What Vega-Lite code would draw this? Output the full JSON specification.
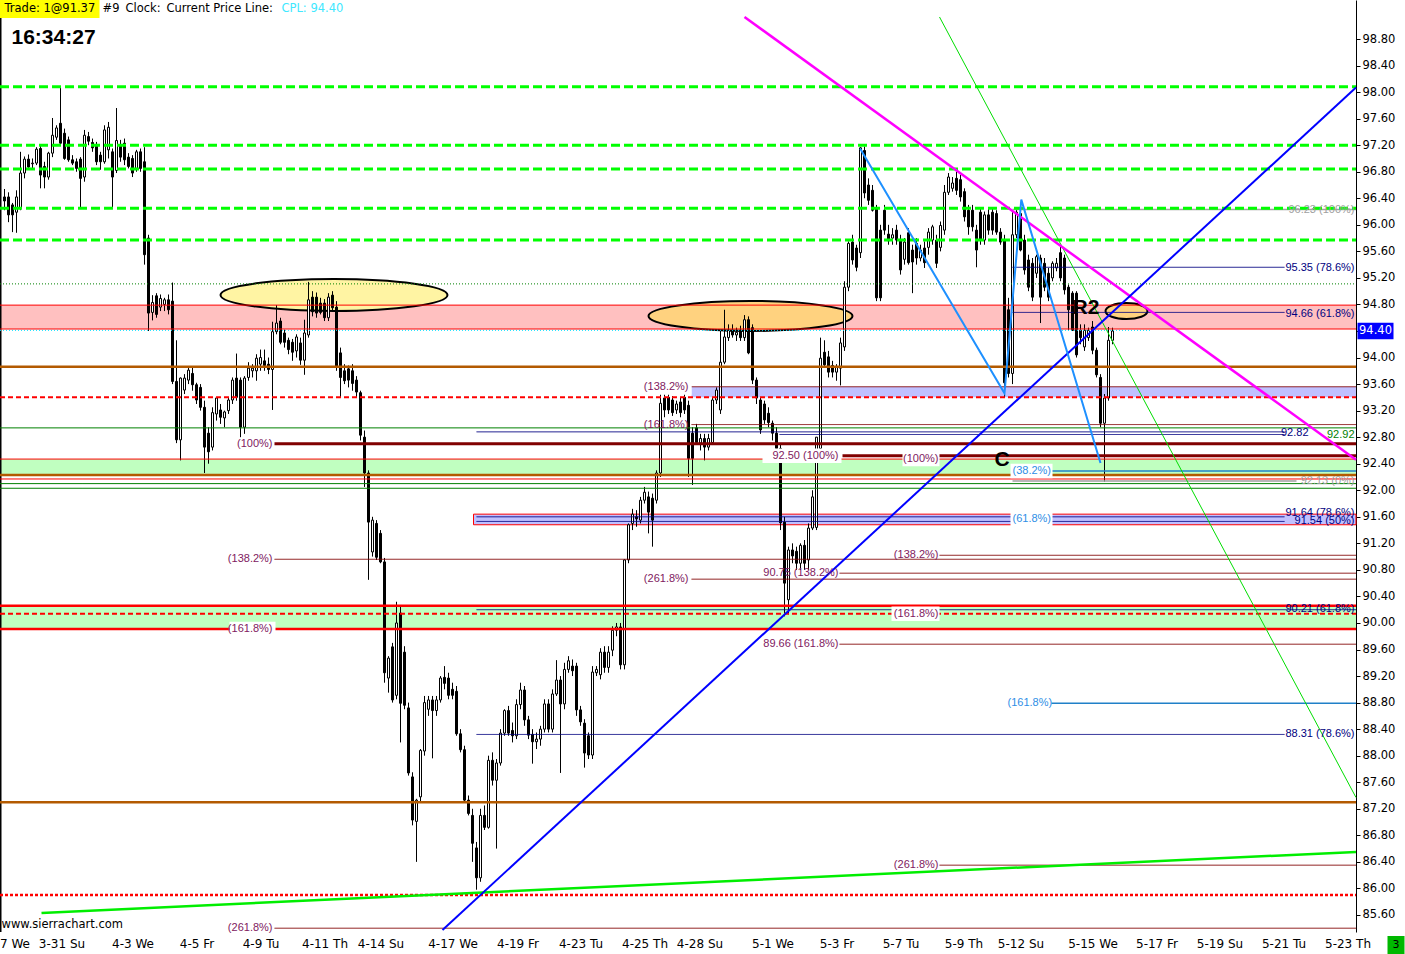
{
"$schema":"https://vega.github.io/schema/vega-lite/v6.json",
"width":1356,"height":932,"autosize":{"type":"none"},"padding":{"left":0,"top":0,"right":49,"bottom":22},"background":"white",
"config":{"view":{"stroke":null},"axis":{"grid":false},"axisY":{"labelOverlap":false,"labelSeparation":0},"axisX":{"labelOverlap":false}},
"datasets":{
"bars":[
{"i":0,"o":96.42,"h":96.54,"l":96.22,"c":96.36},{"i":1,"o":96.42,"h":96.49,"l":96.04,"c":96.15},{"i":2,"o":96.30,"h":96.33,"l":95.89,"c":96.15},{"i":3,"o":96.19,"h":96.52,"l":95.88,"c":96.42},{"i":4,"o":96.25,"h":97.10,"l":96.22,"c":96.78},{"i":5,"o":96.78,"h":97.03,"l":96.70,"c":96.99},{"i":6,"o":96.99,"h":97.06,"l":96.86,"c":96.87},{"i":7,"o":96.92,"h":97.00,"l":96.85,"c":96.93},{"i":8,"o":96.93,"h":97.17,"l":96.90,"c":97.14},{"i":9,"o":97.15,"h":97.20,"l":96.55,"c":96.75},
{"i":10,"o":96.88,"h":96.95,"l":96.55,"c":96.72},{"i":11,"o":96.72,"h":97.10,"l":96.68,"c":97.08},{"i":12,"o":97.08,"h":97.61,"l":97.02,"c":97.35},{"i":13,"o":97.32,"h":97.50,"l":97.28,"c":97.46},{"i":14,"o":97.53,"h":98.08,"l":97.20,"c":97.23},{"i":15,"o":97.38,"h":97.45,"l":96.98,"c":97.00},{"i":16,"o":97.28,"h":97.33,"l":96.95,"c":96.98},{"i":17,"o":96.98,"h":97.05,"l":96.90,"c":96.93},{"i":18,"o":96.95,"h":97.00,"l":96.80,"c":96.85},{"i":19,"o":96.99,"h":97.02,"l":96.25,"c":96.70},
{"i":20,"o":96.72,"h":97.43,"l":96.65,"c":97.35},{"i":21,"o":97.33,"h":97.40,"l":97.20,"c":97.26},{"i":22,"o":97.24,"h":97.30,"l":97.10,"c":97.16},{"i":23,"o":97.20,"h":97.25,"l":96.90,"c":96.95},{"i":24,"o":97.05,"h":97.10,"l":96.83,"c":96.95},{"i":25,"o":96.95,"h":97.50,"l":96.92,"c":97.43},{"i":26,"o":97.13,"h":97.55,"l":97.00,"c":97.47},{"i":27,"o":97.10,"h":97.15,"l":96.25,"c":96.72},{"i":28,"o":96.82,"h":97.76,"l":96.78,"c":97.27},{"i":29,"o":97.21,"h":97.28,"l":96.95,"c":97.02},
{"i":30,"o":97.23,"h":97.30,"l":96.90,"c":96.98},{"i":31,"o":97.02,"h":97.08,"l":96.85,"c":96.88},{"i":32,"o":97.00,"h":97.05,"l":96.72,"c":96.78},{"i":33,"o":96.85,"h":97.13,"l":96.80,"c":97.10},{"i":34,"o":97.10,"h":97.15,"l":96.80,"c":96.85},{"i":35,"o":96.95,"h":97.17,"l":95.40,"c":95.55},{"i":36,"o":95.80,"h":95.85,"l":94.40,"c":94.67},{"i":37,"o":94.68,"h":94.94,"l":94.56,"c":94.83},{"i":38,"o":94.93,"h":94.97,"l":94.60,"c":94.65},{"i":39,"o":94.76,"h":94.95,"l":94.70,"c":94.89},
{"i":40,"o":94.80,"h":94.90,"l":94.70,"c":94.87},{"i":41,"o":94.87,"h":94.95,"l":94.65,"c":94.72},{"i":42,"o":94.85,"h":95.13,"l":93.60,"c":93.64},{"i":43,"o":93.64,"h":94.26,"l":92.71,"c":92.76},{"i":44,"o":92.76,"h":93.70,"l":92.45,"c":93.69},{"i":45,"o":93.51,"h":93.75,"l":93.45,"c":93.69},{"i":46,"o":93.66,"h":93.85,"l":93.60,"c":93.81},{"i":47,"o":93.76,"h":93.85,"l":93.50,"c":93.59},{"i":48,"o":93.59,"h":93.62,"l":93.30,"c":93.36},{"i":49,"o":93.55,"h":93.60,"l":93.20,"c":93.25},
{"i":50,"o":93.25,"h":93.35,"l":92.26,"c":92.65},{"i":51,"o":92.86,"h":92.95,"l":92.40,"c":92.58},{"i":52,"o":92.65,"h":93.25,"l":92.60,"c":93.17},{"i":53,"o":93.15,"h":93.40,"l":93.05,"c":93.39},{"i":54,"o":93.21,"h":93.30,"l":93.00,"c":93.10},{"i":55,"o":93.09,"h":93.20,"l":92.95,"c":93.18},{"i":56,"o":93.20,"h":93.40,"l":93.15,"c":93.36},{"i":57,"o":93.36,"h":93.70,"l":93.30,"c":93.66},{"i":58,"o":93.69,"h":94.06,"l":93.35,"c":93.40},{"i":59,"o":93.66,"h":93.70,"l":92.80,"c":92.95},
{"i":60,"o":92.95,"h":93.72,"l":92.85,"c":93.69},{"i":61,"o":93.70,"h":93.93,"l":93.65,"c":93.84},{"i":62,"o":93.80,"h":93.90,"l":93.70,"c":93.84},{"i":63,"o":93.80,"h":94.05,"l":93.65,"c":93.99},{"i":64,"o":93.90,"h":94.12,"l":93.80,"c":94.00},{"i":65,"o":93.95,"h":94.12,"l":93.80,"c":93.88},{"i":66,"o":93.90,"h":94.00,"l":93.75,"c":93.82},{"i":67,"o":93.82,"h":94.54,"l":93.21,"c":94.39},{"i":68,"o":94.39,"h":94.79,"l":94.35,"c":94.52},{"i":69,"o":94.55,"h":94.60,"l":94.20,"c":94.23},
{"i":70,"o":94.37,"h":94.42,"l":94.15,"c":94.23},{"i":71,"o":94.26,"h":94.30,"l":94.05,"c":94.12},{"i":72,"o":94.23,"h":94.28,"l":93.95,"c":94.08},{"i":73,"o":94.10,"h":94.35,"l":94.00,"c":94.31},{"i":74,"o":94.22,"h":94.30,"l":93.89,"c":93.96},{"i":75,"o":93.96,"h":94.57,"l":93.74,"c":94.37},{"i":76,"o":94.34,"h":95.14,"l":94.30,"c":94.87},{"i":77,"o":94.91,"h":95.00,"l":94.62,"c":94.69},{"i":78,"o":94.91,"h":94.98,"l":94.60,"c":94.67},{"i":79,"o":94.82,"h":94.90,"l":94.65,"c":94.68},
{"i":80,"o":94.82,"h":94.88,"l":94.55,"c":94.60},{"i":81,"o":94.60,"h":94.97,"l":94.55,"c":94.91},{"i":82,"o":94.94,"h":95.00,"l":94.70,"c":94.75},{"i":83,"o":94.76,"h":94.85,"l":93.80,"c":93.86},{"i":84,"o":94.07,"h":94.15,"l":93.40,"c":93.70},{"i":85,"o":93.80,"h":93.90,"l":93.60,"c":93.65},{"i":86,"o":93.83,"h":93.88,"l":93.55,"c":93.66},{"i":87,"o":93.80,"h":93.90,"l":93.50,"c":93.61},{"i":88,"o":93.66,"h":93.72,"l":93.40,"c":93.48},{"i":89,"o":93.47,"h":93.50,"l":92.75,"c":92.83},
{"i":90,"o":92.80,"h":92.90,"l":92.05,"c":92.26},{"i":91,"o":92.26,"h":92.30,"l":90.65,"c":91.52},{"i":92,"o":91.07,"h":91.60,"l":91.00,"c":91.55},{"i":93,"o":91.50,"h":91.55,"l":90.95,"c":90.99},{"i":94,"o":91.35,"h":91.40,"l":90.90,"c":90.92},{"i":95,"o":90.92,"h":90.98,"l":89.10,"c":89.25},{"i":96,"o":89.17,"h":89.50,"l":88.95,"c":89.47},{"i":97,"o":89.64,"h":89.70,"l":88.80,"c":88.84},{"i":98,"o":88.91,"h":90.32,"l":88.85,"c":90.00},{"i":99,"o":90.15,"h":90.25,"l":88.20,"c":88.79},
{"i":100,"o":89.56,"h":89.65,"l":88.70,"c":88.76},{"i":101,"o":88.72,"h":88.80,"l":87.70,"c":87.74},{"i":102,"o":87.68,"h":87.75,"l":86.95,"c":87.03},{"i":103,"o":87.01,"h":87.35,"l":86.40,"c":87.33},{"i":104,"o":87.38,"h":88.10,"l":87.30,"c":88.08},{"i":105,"o":88.07,"h":88.90,"l":88.00,"c":88.80},{"i":106,"o":88.70,"h":88.90,"l":88.60,"c":88.84},{"i":107,"o":88.84,"h":88.90,"l":87.96,"c":88.68},{"i":108,"o":88.68,"h":88.90,"l":88.60,"c":88.84},{"i":109,"o":88.84,"h":89.20,"l":88.80,"c":89.17},
{"i":110,"o":89.18,"h":89.35,"l":89.00,"c":89.09},{"i":111,"o":89.17,"h":89.25,"l":88.85,"c":88.91},{"i":112,"o":89.00,"h":89.10,"l":88.85,"c":88.91},{"i":113,"o":88.97,"h":89.05,"l":88.30,"c":88.33},{"i":114,"o":88.33,"h":88.40,"l":88.05,"c":88.09},{"i":115,"o":88.09,"h":88.15,"l":87.30,"c":87.33},{"i":116,"o":87.33,"h":87.40,"l":87.10,"c":87.13},{"i":117,"o":87.10,"h":87.20,"l":86.40,"c":86.68},{"i":118,"o":86.61,"h":86.70,"l":85.98,"c":86.16},{"i":119,"o":86.16,"h":87.20,"l":86.10,"c":87.10},
{"i":120,"o":87.10,"h":87.25,"l":86.88,"c":86.92},{"i":121,"o":86.92,"h":88.00,"l":86.90,"c":87.93},{"i":122,"o":87.93,"h":88.05,"l":87.55,"c":87.63},{"i":123,"o":87.63,"h":87.95,"l":86.60,"c":87.89},{"i":124,"o":87.89,"h":88.40,"l":87.85,"c":88.34},{"i":125,"o":88.34,"h":88.70,"l":88.30,"c":88.68},{"i":126,"o":88.68,"h":88.75,"l":88.30,"c":88.34},{"i":127,"o":88.38,"h":88.50,"l":88.20,"c":88.30},{"i":128,"o":88.30,"h":88.85,"l":88.25,"c":88.77},{"i":129,"o":88.77,"h":89.10,"l":88.70,"c":88.99},
{"i":130,"o":88.99,"h":89.05,"l":88.45,"c":88.54},{"i":131,"o":88.54,"h":88.60,"l":88.25,"c":88.31},{"i":132,"o":88.32,"h":88.40,"l":87.88,"c":88.21},{"i":133,"o":88.21,"h":88.35,"l":88.10,"c":88.25},{"i":134,"o":88.25,"h":88.45,"l":88.15,"c":88.40},{"i":135,"o":88.40,"h":88.85,"l":88.35,"c":88.78},{"i":136,"o":88.78,"h":88.85,"l":88.35,"c":88.40},{"i":137,"o":88.40,"h":89.00,"l":88.35,"c":88.93},{"i":138,"o":88.93,"h":89.44,"l":88.90,"c":89.14},{"i":139,"o":89.14,"h":89.20,"l":87.74,"c":88.78},
{"i":140,"o":88.78,"h":89.40,"l":88.70,"c":89.30},{"i":141,"o":89.30,"h":89.50,"l":89.25,"c":89.43},{"i":142,"o":89.35,"h":89.45,"l":89.20,"c":89.28},{"i":143,"o":89.35,"h":89.40,"l":88.60,"c":88.69},{"i":144,"o":88.69,"h":88.75,"l":88.45,"c":88.51},{"i":145,"o":88.49,"h":88.55,"l":87.82,"c":88.04},{"i":146,"o":88.30,"h":88.35,"l":87.95,"c":88.01},{"i":147,"o":88.01,"h":89.35,"l":87.95,"c":89.26},{"i":148,"o":89.25,"h":89.35,"l":89.20,"c":89.30},{"i":149,"o":89.22,"h":89.62,"l":89.15,"c":89.56},
{"i":150,"o":89.56,"h":89.65,"l":89.25,"c":89.33},{"i":151,"o":89.33,"h":89.65,"l":89.25,"c":89.56},{"i":152,"o":89.59,"h":89.95,"l":89.50,"c":89.89},{"i":153,"o":89.89,"h":90.00,"l":89.80,"c":89.94},{"i":154,"o":89.94,"h":90.00,"l":89.30,"c":89.37},{"i":155,"o":89.37,"h":90.96,"l":89.30,"c":90.95},{"i":156,"o":90.95,"h":91.50,"l":90.90,"c":91.48},{"i":157,"o":91.50,"h":91.72,"l":91.40,"c":91.64},{"i":158,"o":91.60,"h":91.70,"l":91.45,"c":91.57},{"i":159,"o":91.55,"h":91.90,"l":91.50,"c":91.85},
{"i":160,"o":91.85,"h":92.05,"l":91.80,"c":91.97},{"i":161,"o":91.90,"h":91.98,"l":91.35,"c":91.67},{"i":162,"o":91.88,"h":91.95,"l":91.15,"c":91.55},{"i":163,"o":91.85,"h":92.30,"l":91.80,"c":92.26},{"i":164,"o":92.26,"h":93.48,"l":92.20,"c":93.31},{"i":165,"o":93.39,"h":93.45,"l":93.10,"c":93.21},{"i":166,"o":93.40,"h":93.50,"l":93.15,"c":93.21},{"i":167,"o":93.36,"h":93.42,"l":93.12,"c":93.17},{"i":168,"o":93.21,"h":93.35,"l":93.15,"c":93.30},{"i":169,"o":93.33,"h":93.40,"l":93.10,"c":93.17},
{"i":170,"o":93.40,"h":93.45,"l":93.15,"c":93.21},{"i":171,"o":93.28,"h":93.35,"l":92.20,"c":92.48},{"i":172,"o":92.86,"h":92.95,"l":92.08,"c":92.48},{"i":173,"o":92.94,"h":93.00,"l":92.70,"c":92.72},{"i":174,"o":92.71,"h":92.85,"l":92.60,"c":92.78},{"i":175,"o":92.78,"h":92.85,"l":92.45,"c":92.65},{"i":176,"o":92.65,"h":92.85,"l":92.60,"c":92.78},{"i":177,"o":92.72,"h":93.40,"l":92.70,"c":93.36},{"i":178,"o":93.36,"h":93.55,"l":93.30,"c":93.51},{"i":179,"o":93.21,"h":94.40,"l":93.15,"c":93.93},
{"i":180,"o":93.93,"h":94.72,"l":93.90,"c":94.31},{"i":181,"o":94.30,"h":94.50,"l":94.25,"c":94.41},{"i":182,"o":94.41,"h":94.50,"l":94.30,"c":94.34},{"i":183,"o":94.34,"h":94.45,"l":94.25,"c":94.38},{"i":184,"o":94.41,"h":94.48,"l":94.25,"c":94.30},{"i":185,"o":94.30,"h":94.64,"l":94.25,"c":94.57},{"i":186,"o":94.57,"h":94.62,"l":94.05,"c":94.07},{"i":187,"o":94.45,"h":94.50,"l":93.60,"c":93.66},{"i":188,"o":93.66,"h":93.70,"l":93.30,"c":93.39},{"i":189,"o":93.36,"h":93.40,"l":92.85,"c":92.91},
{"i":190,"o":93.30,"h":93.35,"l":93.00,"c":93.06},{"i":191,"o":93.16,"h":93.25,"l":92.95,"c":93.02},{"i":192,"o":93.01,"h":93.05,"l":92.75,"c":92.86},{"i":193,"o":92.86,"h":92.95,"l":92.55,"c":92.63},{"i":194,"o":92.63,"h":92.70,"l":91.40,"c":91.51},{"i":195,"o":91.52,"h":91.60,"l":90.10,"c":90.60},{"i":196,"o":90.35,"h":91.15,"l":90.13,"c":91.10},{"i":197,"o":91.10,"h":91.20,"l":90.90,"c":91.01},{"i":198,"o":91.08,"h":91.15,"l":90.80,"c":90.90},{"i":199,"o":90.90,"h":91.20,"l":90.80,"c":91.17},
{"i":200,"o":91.17,"h":91.25,"l":90.80,"c":90.90},{"i":201,"o":90.95,"h":91.50,"l":90.80,"c":91.43},{"i":202,"o":91.43,"h":92.00,"l":91.40,"c":91.90},{"i":203,"o":91.44,"h":92.80,"l":91.40,"c":92.80},{"i":204,"o":92.63,"h":94.30,"l":92.60,"c":93.99},{"i":205,"o":94.08,"h":94.26,"l":93.85,"c":93.89},{"i":206,"o":94.01,"h":94.10,"l":93.70,"c":93.78},{"i":207,"o":93.88,"h":93.95,"l":93.70,"c":93.78},{"i":208,"o":93.78,"h":93.90,"l":93.65,"c":93.85},{"i":209,"o":93.84,"h":94.30,"l":93.58,"c":94.22},
{"i":210,"o":94.16,"h":95.15,"l":94.10,"c":95.06},{"i":211,"o":95.06,"h":95.75,"l":95.00,"c":95.72},{"i":212,"o":95.74,"h":95.85,"l":95.40,"c":95.47},{"i":213,"o":95.65,"h":95.70,"l":95.30,"c":95.36},{"i":214,"o":95.58,"h":97.17,"l":95.50,"c":97.16},{"i":215,"o":97.12,"h":97.18,"l":96.40,"c":96.48},{"i":216,"o":96.60,"h":96.70,"l":96.30,"c":96.37},{"i":217,"o":96.52,"h":96.60,"l":96.20,"c":96.22},{"i":218,"o":96.25,"h":96.30,"l":94.85,"c":94.90},{"i":219,"o":95.92,"h":96.00,"l":94.85,"c":94.90},
{"i":220,"o":96.22,"h":96.30,"l":95.85,"c":95.92},{"i":221,"o":95.86,"h":96.00,"l":95.70,"c":95.76},{"i":222,"o":95.80,"h":95.95,"l":95.70,"c":95.85},{"i":223,"o":95.92,"h":96.00,"l":95.70,"c":95.77},{"i":224,"o":95.77,"h":95.85,"l":95.25,"c":95.32},{"i":225,"o":95.48,"h":95.80,"l":95.40,"c":95.74},{"i":226,"o":95.88,"h":95.95,"l":95.40,"c":95.43},{"i":227,"o":95.62,"h":95.70,"l":94.97,"c":95.44},{"i":228,"o":95.72,"h":95.80,"l":95.40,"c":95.50},{"i":229,"o":95.50,"h":95.70,"l":95.45,"c":95.62},
{"i":230,"o":95.65,"h":95.75,"l":95.35,"c":95.43},{"i":231,"o":95.66,"h":95.95,"l":95.55,"c":95.89},{"i":232,"o":95.77,"h":96.00,"l":95.70,"c":95.97},{"i":233,"o":95.77,"h":95.85,"l":95.35,"c":95.42},{"i":234,"o":95.66,"h":96.05,"l":95.60,"c":95.99},{"i":235,"o":95.92,"h":96.60,"l":95.85,"c":96.49},{"i":236,"o":96.49,"h":96.78,"l":96.45,"c":96.72},{"i":237,"o":96.55,"h":96.72,"l":96.50,"c":96.63},{"i":238,"o":96.70,"h":96.80,"l":96.45,"c":96.52},{"i":239,"o":96.68,"h":96.75,"l":96.35,"c":96.42},
{"i":240,"o":96.50,"h":96.55,"l":96.05,"c":96.12},{"i":241,"o":96.22,"h":96.30,"l":95.85,"c":95.97},{"i":242,"o":96.22,"h":96.30,"l":95.90,"c":95.97},{"i":243,"o":95.92,"h":96.00,"l":95.36,"c":95.62},{"i":244,"o":96.19,"h":96.25,"l":95.70,"c":95.77},{"i":245,"o":95.77,"h":96.20,"l":95.70,"c":96.15},{"i":246,"o":96.15,"h":96.25,"l":95.85,"c":95.92},{"i":247,"o":96.19,"h":96.25,"l":95.85,"c":95.92},{"i":248,"o":96.17,"h":96.22,"l":95.85,"c":95.89},{"i":249,"o":95.89,"h":95.95,"l":95.70,"c":95.74},
{"i":250,"o":95.77,"h":95.85,"l":93.40,"c":93.62},{"i":251,"o":94.72,"h":94.90,"l":93.70,"c":93.76},{"i":252,"o":93.76,"h":96.19,"l":93.60,"c":95.85},{"i":253,"o":95.85,"h":96.25,"l":95.80,"c":96.19},{"i":254,"o":96.17,"h":96.25,"l":95.60,"c":95.62},{"i":255,"o":95.77,"h":95.85,"l":95.25,"c":95.32},{"i":256,"o":95.47,"h":95.55,"l":95.00,"c":95.06},{"i":257,"o":95.42,"h":95.50,"l":94.85,"c":94.91},{"i":258,"o":95.27,"h":95.55,"l":95.20,"c":95.52},{"i":259,"o":95.50,"h":95.55,"l":94.52,"c":94.91},
{"i":260,"o":95.42,"h":95.50,"l":95.00,"c":95.06},{"i":261,"o":95.27,"h":95.35,"l":94.85,"c":94.91},{"i":262,"o":95.20,"h":95.45,"l":95.15,"c":95.42},{"i":263,"o":95.35,"h":95.50,"l":95.30,"c":95.42},{"i":264,"o":95.58,"h":95.70,"l":95.15,"c":95.20},{"i":265,"o":95.50,"h":95.55,"l":94.95,"c":95.02},{"i":266,"o":95.06,"h":95.10,"l":94.41,"c":94.72},{"i":267,"o":94.97,"h":95.00,"l":94.40,"c":94.41},{"i":268,"o":94.97,"h":95.00,"l":94.00,"c":94.04},{"i":269,"o":94.41,"h":94.50,"l":94.20,"c":94.30},
{"i":270,"o":94.16,"h":94.50,"l":94.10,"c":94.41},{"i":271,"o":94.30,"h":94.45,"l":94.25,"c":94.41},{"i":272,"o":94.46,"h":94.55,"l":94.05,"c":94.11},{"i":273,"o":94.11,"h":94.15,"l":93.70,"c":93.74},{"i":274,"o":93.70,"h":93.75,"l":92.95,"c":93.01},{"i":275,"o":93.01,"h":93.45,"l":92.13,"c":93.39},{"i":276,"o":93.39,"h":94.46,"l":93.35,"c":94.26},{"i":277,"o":94.26,"h":94.45,"l":94.20,"c":94.40}
],
"zn":[
{"a":-1.125,"b":337.875,"p1":94.79,"p2":94.43,"k":"pink"},
{"a":171.75,"b":337.875,"p1":93.56,"p2":93.40,"k":"lav"},
{"a":117.25,"b":337.875,"p1":91.64,"p2":91.48,"k":"lavr"},
{"a":-1.125,"b":337.875,"p1":92.47,"p2":92.22,"k":"lg"},
{"a":-1.125,"b":337.875,"p1":90.26,"p2":89.91,"k":"lg"}
],
"hl":[
{"p":96.23,"a":252,"b":337.875,"k":"gray"},
{"p":98.08,"a":-1.125,"b":337.875,"k":"limedash"},
{"p":97.20,"a":-1.125,"b":337.875,"k":"limedash"},
{"p":96.84,"a":-1.125,"b":337.875,"k":"limedash"},
{"p":96.25,"a":-1.125,"b":337.875,"k":"limedash"},
{"p":95.77,"a":-1.125,"b":337.875,"k":"limedash"},
{"p":95.11,"a":-1.125,"b":337.875,"k":"gdot"},
{"p":95.36,"a":252,"b":320,"k":"navy"},
{"p":94.68,"a":252,"b":320,"k":"navy"},
{"p":94.79,"a":-1.125,"b":337.875,"k":"red"},
{"p":94.43,"a":-1.125,"b":337.875,"k":"red"},
{"p":94.41,"a":-1.125,"b":286.75,"k":"cyan"},
{"p":93.86,"a":-1.125,"b":337.875,"k":"brown"},
{"p":93.56,"a":171.75,"b":337.875,"k":"dred"},
{"p":93.40,"a":-1.125,"b":337.875,"k":"reddash"},
{"p":92.99,"a":171.75,"b":337.875,"k":"dred"},
{"p":92.94,"a":-1.125,"b":337.875,"k":"green"},
{"p":92.88,"a":118,"b":320,"k":"navy"},
{"p":92.84,"a":193.75,"b":320,"k":"navy"},
{"p":92.70,"a":67.5,"b":337.875,"k":"dred2"},
{"p":92.52,"a":209.5,"b":337.875,"k":"dred2"},
{"p":92.47,"a":-1.125,"b":337.875,"k":"red"},
{"p":92.29,"a":261.75,"b":337.875,"k":"lblue"},
{"p":92.23,"a":-1.125,"b":337.875,"k":"brown"},
{"p":92.17,"a":-1.125,"b":337.875,"k":"red"},
{"p":92.14,"a":252,"b":323,"k":"gray"},
{"p":92.10,"a":-1.125,"b":337.875,"k":"green"},
{"p":92.03,"a":-1.125,"b":337.875,"k":"green"},
{"p":91.60,"a":118,"b":320,"k":"navy"},
{"p":91.53,"a":118,"b":320,"k":"navy"},
{"p":91.02,"a":233.75,"b":337.875,"k":"dred"},
{"p":90.96,"a":67.5,"b":337.875,"k":"dred"},
{"p":90.75,"a":208.75,"b":337.875,"k":"dred"},
{"p":90.66,"a":171.75,"b":337.875,"k":"dred"},
{"p":90.26,"a":-1.125,"b":337.875,"k":"red2"},
{"p":90.20,"a":118,"b":337.875,"k":"navy"},
{"p":90.14,"a":-1.125,"b":337.875,"k":"reddash"},
{"p":89.91,"a":-1.125,"b":337.875,"k":"red2"},
{"p":89.68,"a":208.75,"b":337.875,"k":"dred"},
{"p":88.79,"a":261.75,"b":337.875,"k":"lblue"},
{"p":88.32,"a":118,"b":320,"k":"navy"},
{"p":87.30,"a":-1.125,"b":337.875,"k":"brown"},
{"p":86.35,"a":233.75,"b":337.875,"k":"dred"},
{"p":85.90,"a":-1.125,"b":337.875,"k":"reddot"},
{"p":85.40,"a":67.5,"b":337.875,"k":"dred"}
],
"tl":[
{"g":"lime","i":9.25,"p":85.63},{"g":"lime","i":337.875,"p":86.55},
{"g":"grn","i":233.75,"p":99.132},{"g":"grn","i":337.875,"p":87.37},
{"g":"mag","i":185,"p":99.132},{"g":"mag","i":337.875,"p":92.46},
{"g":"blu","i":109.5,"p":85.373},{"g":"blu","i":337.875,"p":98.07},
{"g":"zig","i":213.9,"p":97.15},{"g":"zig","i":250,"p":93.46},{"g":"zig","i":254.2,"p":96.38},{"g":"zig","i":274,"p":92.41}
],
"bx":[
{"a":160.25,"b":171.75,"p1":93.66,"p2":93.44,"k":"w"},
{"a":56.25,"b":67.75,"p1":90.02,"p2":89.80,"k":"w"},
{"a":221.75,"b":233.75,"p1":90.25,"p2":90.03,"k":"w"},
{"a":251.5,"b":262,"p1":92.40,"p2":92.18,"k":"w"},
{"a":251.5,"b":262,"p1":91.67,"p2":91.45,"k":"w"},
{"a":189.5,"b":209.25,"p1":92.63,"p2":92.41,"k":"w"},
{"a":224.5,"b":233.75,"p1":92.58,"p2":92.36,"k":"w"},
{"a":-1.125,"b":23.75,"p1":99.388,"p2":99.117,"k":"yel"},
{"a":338.25,"b":347.25,"p1":94.525,"p2":94.275,"k":"blu"},
{"a":345.75,"b":350,"p1":85.283,"p2":85.01,"k":"g3"}
],
"lbr":[
{"x":67,"p":92.70,"t":"(100%)","k":"r"},
{"x":67,"p":90.96,"t":"(138.2%)","k":"r"},
{"x":67,"p":89.91,"t":"(161.8%)","k":"r"},
{"x":67,"p":85.40,"t":"(261.8%)","k":"r"},
{"x":171,"p":93.56,"t":"(138.2%)","k":"r"},
{"x":171,"p":92.99,"t":"(161.8%)","k":"r"},
{"x":171,"p":90.66,"t":"(261.8%)","k":"r"},
{"x":208.5,"p":92.52,"t":"92.50  (100%)","k":"r"},
{"x":208.5,"p":90.75,"t":"90.75  (138.2%)","k":"r"},
{"x":208.5,"p":89.68,"t":"89.66  (161.8%)","k":"r"},
{"x":233.5,"p":92.47,"t":"(100%)","k":"r"},
{"x":233.5,"p":91.02,"t":"(138.2%)","k":"r"},
{"x":233.5,"p":90.14,"t":"(161.8%)","k":"r"},
{"x":233.5,"p":86.35,"t":"(261.8%)","k":"r"},
{"x":337.5,"p":95.35,"t":"95.35  (78.6%)","k":"n"},
{"x":337.5,"p":94.66,"t":"94.66  (61.8%)","k":"n"},
{"x":326,"p":92.86,"t":"92.82","k":"n"},
{"x":337.5,"p":92.84,"t":"92.92","k":"g"},
{"x":337.5,"p":91.65,"t":"91.64  (78.6%)","k":"n"},
{"x":337.5,"p":91.53,"t":"91.54  (50%)","k":"n"},
{"x":337.5,"p":90.21,"t":"90.21  (61.8%)","k":"n"},
{"x":337.5,"p":88.32,"t":"88.31  (78.6%)","k":"n"},
{"x":337.5,"p":96.23,"t":"96.23  (100%)","k":"y"},
{"x":337.5,"p":92.14,"t":"92.13  (0%)","k":"y"}
],
"lbl":[
{"x":252,"p":92.29,"t":"(38.2%)"},
{"x":252,"p":91.56,"t":"(61.8%)"},
{"x":250.75,"p":88.79,"t":"(161.8%)"}
],
"hdr":[
{"x":0,"p":99.252,"t":"Trade: 1@91.37"},
{"x":24.5,"p":99.252,"t":"#9"},
{"x":30.25,"p":99.252,"t":"Clock:"},
{"x":40.5,"p":99.252,"t":"Current Price Line:"},
{"x":-0.75,"p":85.45,"t":"www.sierrachart.com"}
]
},
"resolve":{"scale":{"color":"independent","strokeWidth":"independent","strokeDash":"independent","stroke":"independent","fill":"independent"}},
"layer":[
{"data":{"name":"zn"},"mark":{"type":"rect","strokeWidth":1},
"encoding":{
"x":{"field":"a","type":"quantitative","title":null,"scale":{"domain":[-1.125,337.875],"nice":false,"zero":false,"padding":0},
"axis":{"orient":"bottom","values":[2.5,14.25,32,48,64,80,94,112,128.25,144,160,173.75,192,208,224,239.75,254,272,288,303.75,319.75,335.75],"tickCount":60,
"labelExpr":"['7 We','3-31 Su','4-3 We','4-5 Fr','4-9 Tu','4-11 Th','4-14 Su','4-17 We','4-19 Fr','4-23 Tu','4-25 Th','4-28 Su','5-1 We','5-3 Fr','5-7 Tu','5-9 Th','5-12 Su','5-15 We','5-17 Fr','5-19 Su','5-21 Tu','5-23 Th'][indexof([2.5,14.25,32,48,64,80,94,112,128.25,144,160,173.75,192,208,224,239.75,254,272,288,303.75,319.75,335.75],datum.value)]",
"domain":false,"ticks":false,"grid":false,"labelFont":"DejaVu Sans","labelFontSize":12,"labelColor":"#000000","labelPadding":6,"labelOverlap":false,"labelBound":false,"labelFlush":false,"title":null}},
"x2":{"field":"b"},
"y":{"field":"p1","type":"quantitative","title":null,"scale":{"domain":[85.343,99.388],"nice":false,"zero":false,"padding":0},
"axis":{"orient":"right","values":[85.6,86.0,86.4,86.8,87.2,87.6,88.0,88.4,88.8,89.2,89.6,90.0,90.4,90.8,91.2,91.6,92.0,92.4,92.8,93.2,93.6,94.0,94.4,94.8,95.2,95.6,96.0,96.4,96.8,97.2,97.6,98.0,98.4,98.8],"tickCount":60,"format":".2f","labelExpr":"datum.value === 94.4 ? '' : datum.label","domain":true,"domainColor":"#000000","domainWidth":1,"ticks":true,"tickColor":"#000000","tickSize":4,"labelFont":"DejaVu Sans","labelFontSize":11.5,"labelColor":"#000000","labelPadding":2,"grid":false,"labelOverlap":false,"labelSeparation":0,"labelFlush":false,"labelBound":false,"title":null}},
"y2":{"field":"p2"},
"color":{"field":"k","type":"nominal","scale":{"domain":["pink","lav","lavr","lg"],"range":["#ffc0c0","#c0c0ff","#c0c0ff","#c0ffc0"]},"legend":null},
"stroke":{"condition":{"test":"datum.k==='lavr'","value":"#ff0000"},"value":"transparent"}
}},
{"data":{"values":[{"i":82.375,"p":94.943}]},"mark":{"type":"point","shape":"M-1,0A1,0.141,0,1,0,1,0A1,0.141,0,1,0,-1,0Z","size":51529,"filled":true,"fill":"#fff4a3","stroke":"#000000","strokeWidth":2,"opacity":1},
"encoding":{"x":{"field":"i","type":"quantitative","title":null},"y":{"field":"p","type":"quantitative","title":null}}},
{"data":{"values":[{"i":186.5,"p":94.626}]},"mark":{"type":"point","shape":"M-1,0A1,0.147,0,1,0,1,0A1,0.147,0,1,0,-1,0Z","size":41616,"filled":true,"fill":"#ffd27f","stroke":"#000000","strokeWidth":2,"opacity":1},
"encoding":{"x":{"field":"i","type":"quantitative","title":null},"y":{"field":"p","type":"quantitative","title":null}}},
{"data":{"values":[{"i":280.5,"p":94.70}]},"mark":{"type":"point","shape":"M-1,0A1,0.38,0,1,0,1,0A1,0.38,0,1,0,-1,0Z","size":1764,"filled":true,"fill":"#ffd27f","stroke":"#000000","strokeWidth":2,"opacity":1},
"encoding":{"x":{"field":"i","type":"quantitative","title":null},"y":{"field":"p","type":"quantitative","title":null}}},
{"data":{"values":[{"i":-1.0}]},"mark":{"type":"rule","color":"#000000","strokeWidth":2},
"encoding":{"x":{"field":"i","type":"quantitative","title":null}}},
{"data":{"name":"bars"},"mark":{"type":"rule","color":"#000000","strokeWidth":1},
"encoding":{"x":{"field":"i","type":"quantitative","title":null},"y":{"field":"l","type":"quantitative","title":null},"y2":{"field":"h"}}},
{"data":{"name":"bars"},"mark":{"type":"bar","size":2,"stroke":"#000000","strokeWidth":1},
"encoding":{"x":{"field":"i","type":"quantitative","title":null},"y":{"field":"o","type":"quantitative","title":null},"y2":{"field":"c"},
"fill":{"condition":{"test":"datum.c < datum.o","value":"#000000"},"value":"#ffffff"}}},
{"data":{"name":"hl"},"mark":{"type":"rule"},
"encoding":{"x":{"field":"a","type":"quantitative","title":null},"x2":{"field":"b"},"y":{"field":"p","type":"quantitative","title":null},
"color":{"field":"k","type":"nominal","legend":null,"scale":{"domain":["limedash","gdot","cyan","red","red2","reddash","reddot","brown","green","navy","dred","dred2","gray","lblue"],"range":["#00ff00","#008000","#00e0ff","#ff0000","#ff0000","#ff0000","#ff0000","#b35a00","#008000","#000080","#800000","#800000","#a0a0a0","#2080c8"]}},
"strokeWidth":{"field":"k","type":"ordinal","legend":null,"scale":{"type":"ordinal","domain":["limedash","gdot","cyan","red","red2","reddash","reddot","brown","green","navy","dred","dred2","gray","lblue"],"range":[3,1,1,1,2.5,2,2.5,2.5,1,1,1,3,1.5,1.5]}},
"strokeDash":{"field":"k","type":"nominal","legend":null,"scale":{"domain":["limedash","gdot","cyan","red","red2","reddash","reddot","brown","green","navy","dred","dred2","gray","lblue"],"range":[[9,4],[1,2],[1,2],[1,0],[1,0],[5,3],[3,2],[1,0],[1,0],[1,0],[1,0],[1,0],[1,0],[1,0]]}}
}},
{"data":{"name":"tl"},"mark":{"type":"line"},
"encoding":{"x":{"field":"i","type":"quantitative","title":null},"y":{"field":"p","type":"quantitative","title":null},"order":{"field":"i","type":"quantitative"},
"color":{"field":"g","type":"nominal","legend":null,"scale":{"domain":["lime","grn","mag","blu","zig"],"range":["#00ee00","#00dd00","#ff00ff","#0000ff","#1e90ff"]}},
"strokeWidth":{"field":"g","type":"ordinal","legend":null,"scale":{"type":"ordinal","domain":["lime","grn","mag","blu","zig"],"range":[2.5,1,2.5,2,2]}}
}},
{"data":{"name":"bx"},"mark":{"type":"rect"},
"encoding":{"x":{"field":"a","type":"quantitative","title":null},"x2":{"field":"b"},"y":{"field":"p1","type":"quantitative","title":null},"y2":{"field":"p2"},
"color":{"field":"k","type":"nominal","legend":null,"scale":{"domain":["w","yel","blu","g3"],"range":["#ffffff","#ffff00","#0000ff","#00b800"]}}}},
{"data":{"name":"lbr"},"mark":{"type":"text","align":"right","baseline":"middle","font":"Liberation Sans","fontSize":11},
"encoding":{"x":{"field":"x","type":"quantitative","title":null},"y":{"field":"p","type":"quantitative","title":null},"text":{"field":"t"},
"color":{"field":"k","type":"nominal","legend":null,"scale":{"domain":["r","n","g","y"],"range":["#802060","#000080","#008000","#a0a0a0"]}}}},
{"data":{"name":"lbl"},"mark":{"type":"text","align":"left","baseline":"middle","font":"Liberation Sans","fontSize":11,"color":"#2e8ee6"},
"encoding":{"x":{"field":"x","type":"quantitative","title":null},"y":{"field":"p","type":"quantitative","title":null},"text":{"field":"t"}}},
{"data":{"name":"hdr"},"mark":{"type":"text","align":"left","baseline":"middle","font":"DejaVu Sans","fontSize":11.5,"color":"#000000"},
"encoding":{"x":{"field":"x","type":"quantitative","title":null},"y":{"field":"p","type":"quantitative","title":null},"text":{"field":"t"}}},
{"data":{"values":[{"x":69.25,"p":99.252,"t":"CPL: 94.40"}]},"mark":{"type":"text","align":"left","baseline":"middle","font":"DejaVu Sans","fontSize":11.5,"color":"#40e8ff"},
"encoding":{"x":{"field":"x","type":"quantitative","title":null},"y":{"field":"p","type":"quantitative","title":null},"text":{"field":"t"}}},
{"data":{"values":[{"x":1.75,"p":98.815,"t":"16:34:27"}]},"mark":{"type":"text","align":"left","baseline":"middle","font":"Liberation Sans","fontSize":21,"fontWeight":"bold","color":"#000000"},
"encoding":{"x":{"field":"x","type":"quantitative","title":null},"y":{"field":"p","type":"quantitative","title":null},"text":{"field":"t"}}},
{"data":{"values":[{"x":267,"p":94.74,"t":"R2"},{"x":247.5,"p":92.45,"t":"C"}]},"mark":{"type":"text","align":"left","baseline":"middle","font":"Liberation Sans","fontSize":21,"fontWeight":"bold","color":"#000000"},
"encoding":{"x":{"field":"x","type":"quantitative","title":null},"y":{"field":"p","type":"quantitative","title":null},"text":{"field":"t"}}},
{"data":{"values":[{"x":342.75,"p":94.40,"t":"94.40"}]},"mark":{"type":"text","align":"center","baseline":"middle","font":"DejaVu Sans","fontSize":11.5,"color":"#ffffff"},
"encoding":{"x":{"field":"x","type":"quantitative","title":null},"y":{"field":"p","type":"quantitative","title":null},"text":{"field":"t"}}},
{"data":{"values":[{"x":347.9,"p":85.15,"t":"3"}]},"mark":{"type":"text","align":"center","baseline":"middle","font":"DejaVu Sans","fontSize":11,"color":"#000000"},
"encoding":{"x":{"field":"x","type":"quantitative","title":null},"y":{"field":"p","type":"quantitative","title":null},"text":{"field":"t"}}}
]
}
